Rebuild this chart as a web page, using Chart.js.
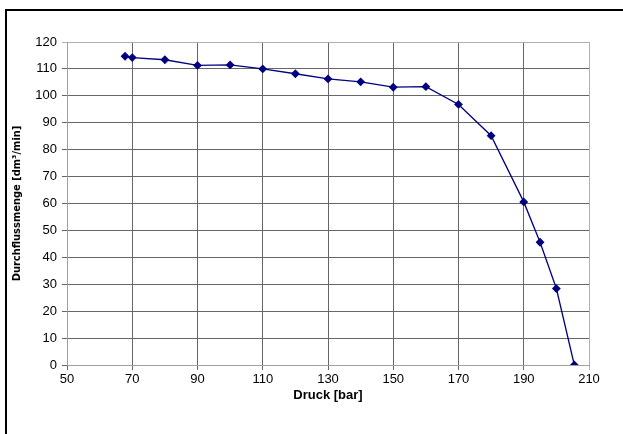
<!DOCTYPE html>
<html lang="de">
<head>
    <meta charset="UTF-8">
    <title>Durchflussmenge über Druck</title>
    <script src="https://cdn.jsdelivr.net/npm/chart.js"></script>
    <style>
        body { margin: 0; background: #fff; }
        canvas { display: block; }
    </style>
</head>
<body>
<canvas id="flowChart" width="623" height="434"></canvas>

<script>
    // Druck [bar] und Durchflussmenge [dm³/min]
    const druck = [67.8, 70, 80, 90, 100, 110, 120, 130, 140, 150, 160, 170, 180, 190, 195, 200, 205.5];
    const durchfluss = [114.7, 114.2, 113.4, 111.3, 111.5, 110.0, 108.2, 106.3, 105.2, 103.2, 103.4, 96.8, 85.2, 60.6, 45.6, 28.4, 0];

    const xMin = 50, xMax = 210, xStep = 20;
    const yMin = 0, yMax = 120, yStep = 10;

    const points = druck.map((d, i) => ({ x: d, y: durchfluss[i] }));

    const gridColor = (max) => (c) => (c.tick && c.tick.value === max ? '#b0b0b0' : '#666666');

    // schwarzer Rahmen links/oben
    const frame = {
        id: 'frame',
        beforeDraw(chart) {
            const ctx = chart.ctx;
            ctx.save();
            ctx.fillStyle = '#fff';
            ctx.fillRect(0, 0, chart.width, chart.height);
            ctx.strokeStyle = '#000';
            ctx.lineWidth = 2;
            ctx.strokeRect(6, 10, 800, 600);
            ctx.restore();
        }
    };

    new Chart(document.getElementById('flowChart'), {
        type: 'scatter',
        data: {
            datasets: [{
                data: points,
                showLine: true,
                borderColor: '#000080',
                backgroundColor: '#000080',
                borderWidth: 1.3,
                pointStyle: 'rectRot',
                pointRadius: 3.5,
                pointHoverRadius: 3.5
            }]
        },
        options: {
            responsive: false,
            animation: false,
            layout: { padding: { left: 6, top: 42, right: 34, bottom: 0 } },
            plugins: { legend: { display: false }, tooltip: { enabled: false } },
            scales: {
                x: {
                    type: 'linear',
                    min: xMin, max: xMax,
                    afterFit: (s) => { s.height = 69; },
                    ticks: { stepSize: xStep, color: '#000', padding: 2, font: { family: 'Liberation Sans', size: 13 } },
                    grid: { color: gridColor(xMax), tickLength: 5, lineWidth: 1 },
                    border: { color: '#a0a0a0', width: 1 },
                    title: {
                        display: true, text: 'Druck [bar]', color: '#000',
                        font: { family: 'Liberation Sans', size: 13, weight: 'bold' },
                        padding: { top: 0, bottom: 31 }
                    }
                },
                y: {
                    type: 'linear',
                    min: yMin, max: yMax,
                    afterFit: (s) => { s.width = 61; },
                    ticks: { stepSize: yStep, color: '#000', padding: 5, font: { family: 'Liberation Sans', size: 13 } },
                    grid: { color: gridColor(yMax), tickLength: 5, lineWidth: 1 },
                    border: { color: '#a0a0a0', width: 1 },
                    title: {
                        display: true, text: 'Durchflussmenge [dm³/min]', color: '#000',
                        font: { family: "'DejaVu Sans Condensed', 'Liberation Sans', sans-serif", size: 11, weight: 'bold' },
                        padding: { top: 5, bottom: 0 }
                    }
                }
            }
        },
        plugins: [frame]
    });
</script>
</body>
</html>
